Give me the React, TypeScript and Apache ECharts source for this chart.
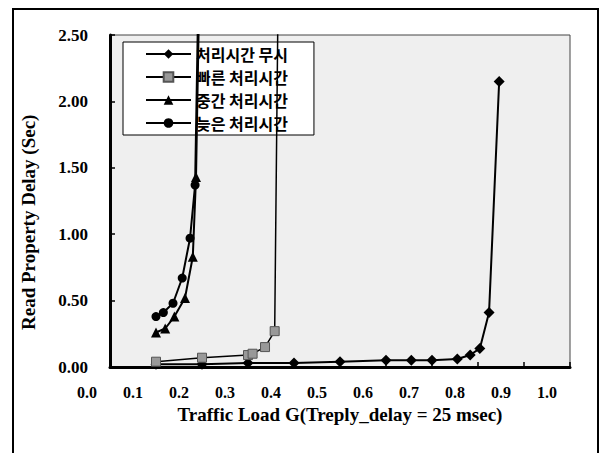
import React, { useEffect, useRef } from "react";
import * as echarts from "echarts";

const seriesNames = ["처리시간 무시", "빠른 처리시간", "중간 처리시간", "늦은 처리시간"];

const xIgnore = [0.1, 0.2, 0.3, 0.4, 0.5, 0.6, 0.655, 0.7, 0.755, 0.783, 0.804, 0.824, 0.846];
const yIgnore = [0.02, 0.02, 0.03, 0.03, 0.04, 0.05, 0.05, 0.05, 0.06, 0.09, 0.14, 0.41, 2.15];

const xFast = [0.1, 0.2, 0.3, 0.31, 0.337, 0.358, 0.366];
const yFast = [0.04, 0.07, 0.09, 0.1, 0.15, 0.27, 3.0];

const xMedium = [0.1, 0.12, 0.14, 0.163, 0.18, 0.187, 0.195];
const yMedium = [0.26, 0.29, 0.38, 0.52, 0.83, 1.43, 3.0];

const xSlow = [0.1, 0.116, 0.137, 0.157, 0.174, 0.185, 0.193];
const ySlow = [0.38, 0.41, 0.48, 0.67, 0.97, 1.37, 3.0];

const xTicks = { min: 0, max: 1, interval: 0.1 };
const yTicks = { min: 0, max: 2.5, interval: 0.5 };

const xTitle = "Traffic Load G(Treply_delay = 25 msec)";
const yTitle = "Read Property Delay (Sec)";

const pairs = (xs: number[], ys: number[]) => xs.map((x, i) => [x, ys[i]]);

const serif = "Liberation Serif";
const kr = "Noto Sans CJK KR";

export default function App() {
  const ref = useRef<HTMLDivElement>(null);
  useEffect(() => {
    if (!ref.current) return;
    const chart = echarts.init(ref.current, undefined, { renderer: "svg" });
    const mk = (i: number, xs: number[], ys: number[], symbol: string, size: number, color: string, lw: number) => ({
      name: seriesNames[i],
      type: "line",
      data: pairs(xs, ys),
      symbol,
      symbolSize: size,
      clip: true,
      lineStyle: { color: "#000", width: lw },
      itemStyle: { color, borderColor: color === "#000" ? "#000" : "#555", borderWidth: color === "#000" ? 0 : 1 },
      z: 3 + i,
    });
    chart.setOption({
      animation: false,
      backgroundColor: "#fff",
      graphic: [
        {
          type: "rect",
          shape: { x: 13, y: 9, width: 585, height: 470 },
          style: { fill: "none", stroke: "#000", lineWidth: 2 },
          z: 0,
        },
        {
          type: "text",
          x: 28,
          y: 330,
          rotation: Math.PI / 2,
          style: {
            text: yTitle,
            fontFamily: serif,
            fontSize: 19,
            fontWeight: "bold",
            fill: "#000",
            align: "left",
            verticalAlign: "middle",
          },
          z: 10,
        },
      ],
      grid: {
        left: 110,
        top: 35,
        right: 36,
        bottom: 86,
        show: true,
        backgroundColor: "#efefef",
        borderColor: "#444",
        borderWidth: 1,
      },
      legend: {
        left: 123,
        top: 42,
        orient: "vertical",
        data: seriesNames,
        backgroundColor: "#fff",
        borderColor: "#000",
        borderWidth: 1,
        padding: [2, 26, 2, 22],
        itemWidth: 45,
        itemHeight: 12,
        itemGap: 3,
        itemTextGap: 5,
        textStyle: { fontFamily: kr, fontSize: 16, fontWeight: "bold", color: "#000", lineHeight: 20 },
      },
      xAxis: {
        type: "value",
        min: xTicks.min,
        max: xTicks.max,
        interval: xTicks.interval,
        name: xTitle,
        nameLocation: "middle",
        nameGap: 38,
        nameTextStyle: { fontFamily: serif, fontSize: 19, fontWeight: "bold", color: "#000" },
        axisLine: { show: true, lineStyle: { color: "#000", width: 3 } },
        axisTick: { show: true, inside: true, length: 5, lineStyle: { color: "#000", width: 1.5 } },
        splitLine: { show: false },
        axisLabel: {
          formatter: (v: number) => v.toFixed(1),
          fontFamily: serif,
          fontSize: 16,
          fontWeight: "bold",
          color: "#000",
          margin: 17,
          padding: [0, 46, 0, 0],
        },
      },
      yAxis: {
        type: "value",
        min: yTicks.min,
        max: yTicks.max,
        interval: yTicks.interval,
        axisLine: { show: true, lineStyle: { color: "#000", width: 3 } },
        axisTick: { show: true, inside: true, length: 5, lineStyle: { color: "#000", width: 1.5 } },
        splitLine: { show: false },
        axisLabel: {
          formatter: (v: number) => v.toFixed(2),
          fontFamily: serif,
          fontSize: 17,
          fontWeight: "bold",
          color: "#000",
          margin: 22,
        },
      },
      series: [
        mk(0, xIgnore, yIgnore, "diamond", 11, "#000", 2),
        mk(1, xFast, yFast, "rect", 9, "#999", 1.5),
        mk(2, xMedium, yMedium, "triangle", 10, "#000", 2),
        mk(3, xSlow, ySlow, "circle", 9, "#000", 2),
      ],
    });
    return () => chart.dispose();
  }, []);
  return <div ref={ref} style={{ position: "fixed", left: 0, top: 0, width: 606, height: 453 }} />;
}
